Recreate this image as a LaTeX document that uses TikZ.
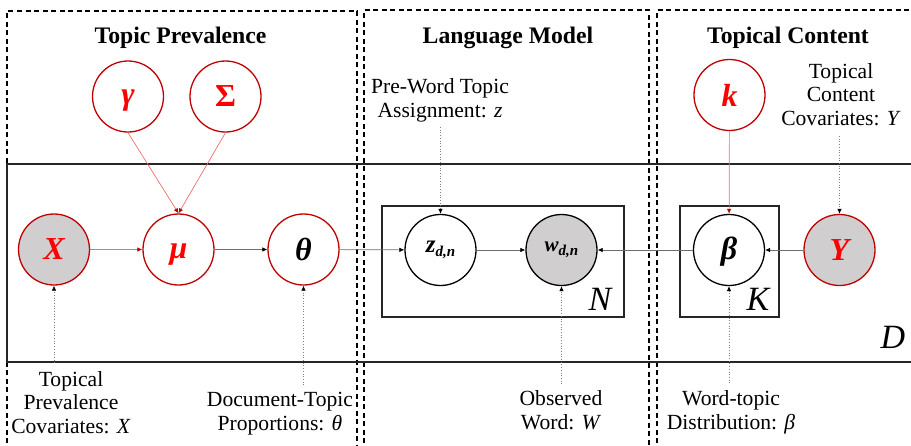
\documentclass[tikz,border=0pt]{standalone}
\usepackage{fontspec}
\setmainfont{Liberation Serif}
\usetikzlibrary{arrows.meta}
\definecolor{bordred}{RGB}{192,0,0}
\definecolor{txtred}{RGB}{255,0,0}
\definecolor{obsgray}{RGB}{208,206,206}
\definecolor{linkred}{RGB}{238,110,110}
\definecolor{linkgray}{RGB}{110,110,110}
\begin{document}
\begin{tikzpicture}[x=1pt,y=-1pt,
 var/.style={circle, minimum size=71pt, inner sep=0pt, line width=1.3pt},
 redvar/.style={var, draw=bordred},
 blkvar/.style={var, draw=black},
 obs/.style={fill=obsgray},
 sym/.style={font=\fontsize{32}{32}\selectfont\bfseries\itshape},
 plate/.style={draw=black!85, line width=1.5pt},
 region/.style={draw=black, line width=1.2pt, dash pattern=on 5pt off 3.5pt},
 title/.style={font=\fontsize{23.7}{26}\selectfont\bfseries, inner sep=0pt, anchor=base},
 lbl/.style={font=\fontsize{21.6}{23.5}\selectfont, align=center, inner sep=0pt, anchor=base},
 platelbl/.style={font=\fontsize{34}{34}\selectfont\itshape, inner sep=0pt, anchor=base},
 redlink/.style={-{Latex[length=5pt,width=4.5pt,color=bordred]}, draw=linkred, line width=0.7pt},
 graylink/.style={-{Latex[length=5pt,width=4.5pt,color=black]}, draw=linkgray, line width=0.7pt},
 hint/.style={-{Latex[length=5pt,width=4.5pt,color=black]}, draw=gray, line width=0.7pt, dotted},
]
\useasboundingbox (0,0) rectangle (911,445);
\clip (0,0) rectangle (911,445);

% dashed regions
\draw[region] (7,460) -- (7,11) -- (357,11) -- (357,460);
\draw[region] (364,460) -- (364,10) -- (649,10) -- (649,460);
\draw[region] (657,460) -- (657,10) -- (930,10);

% document plate D
\draw[plate] (930,164) -- (7,164) -- (7,362) -- (930,362);
% plates N and K
\draw[plate] (382,206) rectangle (624,317);
\draw[plate] (680,206) rectangle (779,317);

% titles
\node[title] (t1) at (180.5,43) {Topic Prevalence};
\node[title] (t2) at (508,43) {Language Model};
\node[title] (t3) at (788,43) {Topical Content};

% variables
\node[redvar, sym, text=txtred] (gamma) at (128,96.5) {\raisebox{-4pt}[\height][\depth]{γ}};
\node[redvar, font=\fontsize{32}{32}\selectfont\bfseries, text=txtred] (Sigma) at (225.5,96.5) {Σ};
\node[redvar, obs, sym, text=txtred] (X) at (54,249.5) {X};
\node[redvar, sym, text=txtred] (mu) at (178.5,249.5) {\raisebox{-5pt}[\height][\depth]{μ}};
\node[redvar, sym] (theta) at (303.5,249.5) {θ};
\node[blkvar] (z) at (440.5,250) {\bfseries\itshape{\fontsize{25}{25}\selectfont z}\raisebox{-4pt}{\fontsize{15}{15}\selectfont d,n}};
\node[blkvar, obs] (w) at (561.5,250) {\bfseries\itshape{\fontsize{21}{21}\selectfont w}\raisebox{-4pt}{\fontsize{15}{15}\selectfont d,n}};
\node[blkvar, sym] (beta) at (729,250) {\raisebox{-2pt}[\height][\depth]{β}};
\node[redvar, obs, sym, text=txtred] (Y) at (839.5,250) {Y};
\node[redvar, sym, text=txtred] (k) at (729.5,95) {k};

% plate labels
\node[platelbl] (N) at (600,310) {N};
\node[platelbl] (K) at (758,310) {K};
\node[platelbl] (D) at (893,348) {D};

% descriptive labels (base = baseline of last line)
\node[lbl] (lx) at (71,433) {Topical\\Prevalence\\Covariates: \textit{X}};
\node[lbl] (lt) at (280,430) {Document-Topic\\Proportions: \textit{θ}};
\node[lbl] (lz) at (440,117) {Pre-Word Topic\\Assignment: \textit{z}};
\node[lbl] (lw) at (561,429) {Observed\\Word: \textit{W}};
\node[lbl] (lb) at (731,429) {Word-topic\\Distribution: \textit{β}};
\node[lbl] (ly) at (841,125) {Topical\\Content\\Covariates: \textit{Y}};

% connectors
\draw[redlink] (gamma.south) -- (mu.north);
\draw[redlink] (Sigma.south) -- (mu.north);
\draw[redlink] (X) -- (mu);
\draw[redlink] (k) -- (beta);
\draw[graylink] (mu) -- (theta);
\draw[graylink] (theta) -- (z);
\draw[graylink] (z) -- (w);
\draw[graylink] (beta) -- (w);
\draw[graylink] (Y) -- (beta);

% dotted pointers
\coordinate (hx) at (54,363);
\coordinate (ht) at (303.5,385);
\coordinate (hz) at (440.5,127);
\coordinate (hw) at (561.5,384);
\coordinate (hb) at (729,383);
\coordinate (hy) at (839.5,136);
\draw[hint] (hx) -- (X);
\draw[hint] (ht) -- (theta);
\draw[hint] (hz) -- (z);
\draw[hint] (hw) -- (w);
\draw[hint] (hb) -- (beta);
\draw[hint] (hy) -- (Y);
\end{tikzpicture}
\end{document}
